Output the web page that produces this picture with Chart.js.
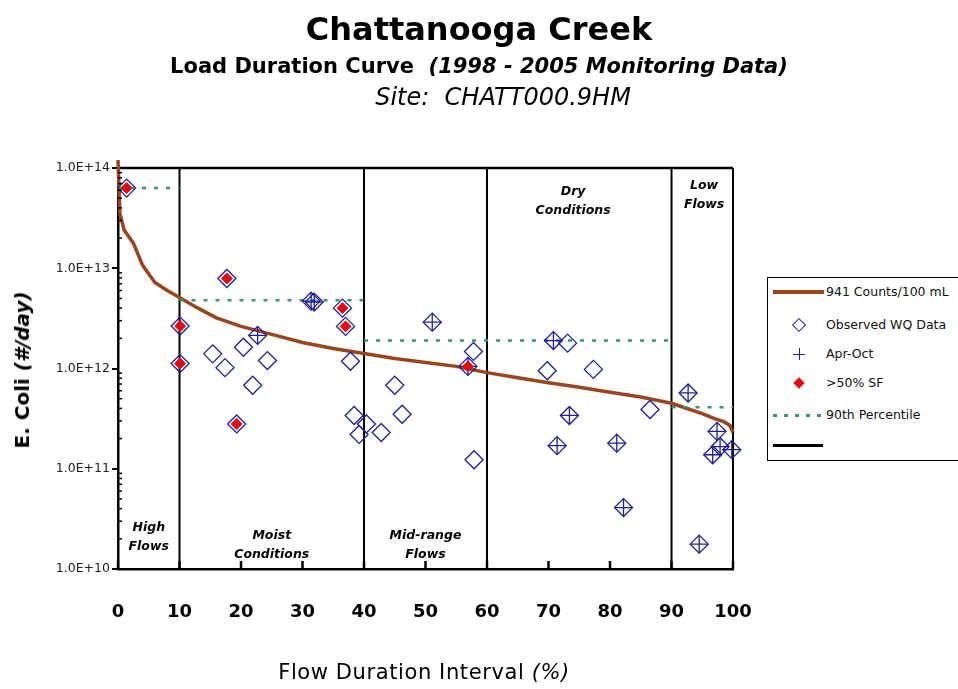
<!DOCTYPE html>
<html>
<head>
<meta charset="utf-8">
<script src="https://cdn.jsdelivr.net/npm/chart.js@4.4.1/dist/chart.umd.min.js"></script>
<style>
html,body{margin:0;padding:0;width:958px;height:689px;overflow:hidden;background:#fff;}
#wrap{position:relative;width:958px;height:689px;overflow:hidden;}
#c{position:absolute;left:0;top:0;}
.t{position:absolute;left:0;width:958px;text-align:center;font-family:"DejaVu Sans",sans-serif;color:#000;white-space:nowrap;line-height:1;}
#legend{position:absolute;left:767px;top:277px;width:240px;height:182px;border:1px solid #000;background:#fff;}
.lt{position:absolute;left:826px;font-family:"DejaVu Sans",sans-serif;font-size:12.5px;color:#111;white-space:nowrap;line-height:14px;}
.sym{position:absolute;}
#ytitle{position:absolute;left:22px;top:370px;transform:translate(-50%,-50%) rotate(-90deg);font-family:"DejaVu Sans",sans-serif;font-weight:bold;font-size:20px;white-space:nowrap;}
#xtitle{position:absolute;left:0;width:848px;text-align:center;top:660px;font-family:"DejaVu Sans",sans-serif;font-size:21px;letter-spacing:0.6px;white-space:nowrap;}
</style>
</head>
<body>
<div id="wrap">
<canvas id="c" width="958" height="689"></canvas>
<div class="t" style="top:13px;font-size:32px;font-weight:bold;">Chattanooga Creek</div>
<div class="t" style="top:56px;font-size:21px;font-weight:bold;">Load Duration Curve&nbsp;&nbsp;<i>(1998 - 2005 Monitoring Data)</i></div>
<div class="t" style="top:85px;left:24px;font-size:24px;font-style:italic;">Site:&nbsp;&nbsp;CHATT000.9HM</div>
<div id="ytitle">E. Coli <i>(#/day)</i></div>
<div id="xtitle">Flow Duration Interval <i>(%)</i></div>
<div id="legend"></div>
<div id="legItems"></div>
</div>
<script>
// ---------------- DATA ----------------
// Load duration curve (941 counts/100 mL)
const curveX = [0, 0.3, 1, 2.5, 4, 6, 8, 10, 13, 16, 20, 25, 30, 35, 40, 45, 50, 55, 60, 65, 70, 75, 80, 85, 90, 93, 95, 97, 98.5, 99.5, 100];
const curveY = [1.2e14, 3.55e13, 2.4e13, 1.78e13, 1.07e13, 7.2e12, 6.0e12, 5.1e12, 4.0e12, 3.2e12, 2.63e12, 2.19e12, 1.82e12, 1.58e12, 1.41e12, 1.26e12, 1.15e12, 1.05e12, 9.1e11, 8.1e11, 7.2e11, 6.5e11, 5.8e11, 5.2e11, 4.5e11, 3.9e11, 3.55e11, 3.16e11, 2.95e11, 2.7e11, 2.3e11];

// Observed WQ data
const obsX = [1.4, 10.1, 10.1, 15.4, 17.4, 17.7, 19.3, 20.4, 21.9, 22.7, 24.3, 31.4, 31.9, 36.5, 37.0, 37.8, 38.4, 39.2, 40.4, 42.8, 45.0, 46.2, 51.1, 56.9, 57.8, 57.9, 69.8, 70.8, 71.4, 73.1, 73.4, 77.3, 81.1, 82.2, 86.5, 92.7, 94.5, 96.7, 97.4, 97.9, 99.8];
const obsY = [6.3e13, 2.65e12, 1.12e12, 1.4e12, 1.02e12, 7.9e12, 2.8e11, 1.63e12, 6.8e11, 2.14e12, 1.2e12, 4.7e12, 4.6e12, 4.0e12, 2.63e12, 1.18e12, 3.4e11, 2.2e11, 2.8e11, 2.3e11, 6.8e11, 3.5e11, 2.9e12, 1.05e12, 1.48e12, 1.23e11, 9.5e11, 1.9e12, 1.7e11, 1.79e12, 3.4e11, 9.8e11, 1.8e11, 4.1e10, 3.9e11, 5.7e11, 1.77e10, 1.38e11, 2.36e11, 1.66e11, 1.55e11];

// Apr-Oct samples
const aprX = [22.7, 31.4, 31.9, 51.1, 56.9, 70.8, 71.4, 73.4, 81.1, 82.2, 92.7, 94.5, 96.7, 97.4, 97.9, 99.8];
const aprY = [2.14e12, 4.7e12, 4.6e12, 2.9e12, 1.05e12, 1.9e12, 1.7e11, 3.4e11, 1.8e11, 4.1e10, 5.7e11, 1.77e10, 1.38e11, 2.36e11, 1.66e11, 1.55e11];

// >50% SF samples
const sfX = [1.4, 10.1, 10.1, 17.7, 19.3, 36.5, 37.0, 56.9];
const sfY = [6.3e13, 2.65e12, 1.12e12, 7.9e12, 2.8e11, 4.0e12, 2.63e12, 1.05e12];

// 90th percentile per flow zone
const pctStart = [0, 10, 40, 90];
const pctEnd = [10, 40, 90, 100];
const pctVal = [6.3e13, 4.8e12, 1.9e12, 4.1e11];

// flow zone boundaries
const zoneBounds = [10, 40, 60, 90, 100];
const zoneNames = [['High', 'Flows'], ['Moist', 'Conditions'], ['Mid-range', 'Flows'], ['Dry', 'Conditions'], ['Low', 'Flows']];

// axis ticks
const xTicks = [0, 10, 20, 30, 40, 50, 60, 70, 80, 90, 100];
const yTickVals = [1e10, 1e11, 1e12, 1e13, 1e14];
const yTickLabels = ['1.0E+10', '1.0E+11', '1.0E+12', '1.0E+13', '1.0E+14'];

// legend labels
const legendLabels = ['941 Counts/100 mL', 'Observed WQ Data', 'Apr-Oct', '>50% SF', '90th Percentile', ''];

// ---------------- STYLE ----------------
const BROWN = '#9a451c';
const NAVY = '#1f1f9e';
const RED = '#e50b0b';
const GREEN = '#3a9478';

const zip = (xs, ys) => xs.map((x, i) => ({x: x, y: ys[i]}));

const pctData = [];
pctStart.forEach((s, i) => {
  pctData.push({x: s, y: pctVal[i]});
  pctData.push({x: pctEnd[i], y: pctVal[i]});
  pctData.push({x: pctEnd[i], y: null});
});

const datasets = [];
datasets.push({label: legendLabels[3], data: zip(sfX, sfY), pointStyle: 'rectRot', pointRadius: 5.5, backgroundColor: RED, borderColor: RED, borderWidth: 1, showLine: false, clip: false});
datasets.push({label: legendLabels[2], data: zip(aprX, aprY), pointStyle: 'cross', pointRadius: 9, borderColor: NAVY, backgroundColor: NAVY, borderWidth: 1.3, showLine: false, clip: false});
datasets.push({label: legendLabels[1], data: zip(obsX, obsY), pointStyle: 'rectRot', pointRadius: 9, borderColor: NAVY, backgroundColor: 'rgba(255,255,255,0)', borderWidth: 1.3, showLine: false, clip: false});
datasets.push({label: legendLabels[4], data: pctData, showLine: true, spanGaps: false, borderColor: GREEN, borderWidth: 2.5, borderDash: [4, 8], pointRadius: 0, clip: false});
datasets.push({label: legendLabels[0], data: zip(curveX, curveY), showLine: true, borderColor: BROWN, borderWidth: 3.5, pointRadius: 0, tension: 0, clip: false});
zoneBounds.forEach(b => {
  datasets.push({label: 'zone', data: [{x: b, y: yTickVals[0]}, {x: b, y: yTickVals[yTickVals.length - 1]}], showLine: true, borderColor: '#000', borderWidth: 2, pointRadius: 0, clip: false});
});
datasets.push({label: 'frame', data: [{x: xTicks[0], y: yTickVals[yTickVals.length - 1]}, {x: xTicks[xTicks.length - 1], y: yTickVals[yTickVals.length - 1]}], showLine: true, borderColor: '#000', borderWidth: 2.5, pointRadius: 0, clip: false});

const zoneAnchor = [
  {x: 5, y: 2.6e10},
  {x: 25, y: 2.15e10},
  {x: 50, y: 2.15e10},
  {x: 74, y: 5.8e13},
  {x: 95.3, y: 6.6e13}
];

const extraPlugin = {
  id: 'extra',
  afterDatasetsDraw(chart) {
    const {ctx, chartArea, scales} = chart;
    const xs = scales.x, ys = scales.y;
    ctx.save();
    ctx.strokeStyle = '#000';
    ctx.lineWidth = 2.5;
    xTicks.forEach(v => {
      const px = xs.getPixelForValue(v);
      ctx.beginPath();
      ctx.moveTo(px, chartArea.bottom);
      ctx.lineTo(px, chartArea.bottom - 8);
      ctx.stroke();
    });
    ctx.lineWidth = 1.5;
    for (let d = 0; d < yTickVals.length - 1; d++) {
      for (let m = 2; m <= 9; m++) {
        const py = ys.getPixelForValue(yTickVals[d] * m);
        ctx.beginPath();
        ctx.moveTo(chartArea.left, py);
        ctx.lineTo(chartArea.left + 4, py);
        ctx.stroke();
      }
    }
    ctx.fillStyle = '#000';
    ctx.font = 'italic bold 12.5px "DejaVu Sans"';
    ctx.textAlign = 'center';
    ctx.textBaseline = 'middle';
    zoneNames.forEach((lines, i) => {
      const a = zoneAnchor[i];
      const px = xs.getPixelForValue(a.x);
      const py = ys.getPixelForValue(a.y);
      lines.forEach((t, j) => ctx.fillText(t, px, py + j * 19));
    });
    ctx.restore();
  }
};

new Chart(document.getElementById('c'), {
  type: 'scatter',
  data: {datasets: datasets},
  options: {
    responsive: false,
    animation: false,
    devicePixelRatio: 1,
    layout: {padding: {left: 48, right: 225, top: 168, bottom: 60}},
    plugins: {legend: {display: false}, tooltip: {enabled: false}, title: {display: false}},
    scales: {
      x: {
        type: 'linear', min: 0, max: 100,
        afterBuildTicks: s => { s.ticks = xTicks.map(v => ({value: v})); },
        afterFit: s => { s.height = 60; },
        grid: {display: false, drawTicks: false},
        border: {display: true, color: '#000', width: 2.5},
        ticks: {padding: 33, color: '#000', font: {family: 'DejaVu Sans', weight: 'bold', size: 18}, maxRotation: 0, autoSkip: false}
      },
      y: {
        type: 'logarithmic', min: yTickVals[0], max: yTickVals[yTickVals.length - 1],
        afterBuildTicks: s => { s.ticks = yTickVals.map(v => ({value: v})); },
        afterFit: s => { s.width = 70; },
        grid: {display: true, drawOnChartArea: false, drawTicks: true, tickLength: 6, color: '#000', lineWidth: 2},
        border: {display: true, color: '#000', width: 2.5},
        ticks: {padding: 2, color: '#222', font: {family: 'DejaVu Sans', size: 12.5}, autoSkip: false,
          callback: (v, i) => yTickLabels[i]}
      }
    }
  },
  plugins: [extraPlugin]
});

// ---------------- HTML LEGEND ----------------
const rows = [292, 325, 354, 383, 415, 445];
const li = document.getElementById('legItems');
function add(html) { li.insertAdjacentHTML('beforeend', html); }
add(`<div class="sym" style="left:773px;top:${rows[0]-2}px;width:51px;height:4px;background:${BROWN}"></div>`);
add(`<div class="sym" style="left:794px;top:${rows[1]-5}px;width:8px;height:8px;border:1px solid ${NAVY};transform:rotate(45deg)"></div>`);
add(`<div class="sym" style="left:793px;top:${rows[2]-0.5}px;width:12px;height:1.3px;background:${NAVY}"></div>`);
add(`<div class="sym" style="left:798.5px;top:${rows[2]-6}px;width:1.3px;height:12px;background:${NAVY}"></div>`);
add(`<div class="sym" style="left:795px;top:${rows[3]-4}px;width:8px;height:8px;background:${RED};transform:rotate(45deg)"></div>`);
add(`<div class="sym" style="left:773px;top:${rows[4]-1}px;width:52px;height:2.5px;background:repeating-linear-gradient(90deg,${GREEN} 0 4px,transparent 4px 11px)"></div>`);
add(`<div class="sym" style="left:773px;top:${rows[5]-1.5}px;width:50px;height:3px;background:#000"></div>`);
legendLabels.forEach((t, i) => {
  if (t) add(`<div class="lt" style="top:${rows[i]-7}px">${t.replace('>', '&gt;')}</div>`);
});
</script>
</body>
</html>
